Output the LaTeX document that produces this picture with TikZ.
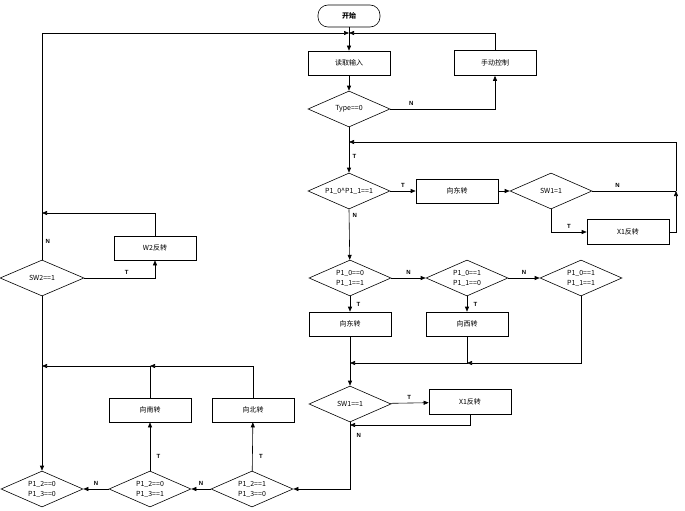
\documentclass[tikz,border=0pt]{standalone}
\usepackage{fontspec}
\setmainfont{Liberation Sans}
\newfontfamily\cjk{Noto Sans CJK SC}
\usetikzlibrary{arrows.meta, shapes.geometric}

\begin{document}
\begin{tikzpicture}[x=1pt, y=-1pt, line width=0.6pt,
        every node/.style={font=\cjk\fontsize{7}{8}\selectfont, align=center},
        box/.style={draw, minimum width=82pt, minimum height=25pt},
        cond/.style={draw, diamond, aspect=2.3, minimum width=82pt, minimum height=36pt, inner sep=0pt},
        lbl/.style={font=\bfseries\fontsize{6}{6}\selectfont},
        arrow/.style={-{Triangle[length=5pt,width=4pt]}}
    ]
    \useasboundingbox (0,0) rectangle (685,511);

    \node (start) [draw, rounded corners=10pt, minimum width=62pt, minimum height=22pt, font=\cjk\bfseries\fontsize{7}{8}\selectfont] at (349,16) {开始};
    \node (read) [box, minimum height=24pt] at (349,63) {读取输入};
    \node (manual) [box] at (495,63) {手动控制};
    \node (type) [cond] at (349,109) {Type==0};
    \node (p01) [cond] at (349,191) {P1\_0\^{}P1\_1==1};
    \node (east1) [box, minimum height=24pt] at (457,191) {向东转};
    \node (swa) [cond] at (551,191) {SW1=1};
    \node (xa) [box] at (628,232) {X1反转};
    \node (da) [cond] at (350,278) {P1\_0==0\\[2pt]P1\_1==1};
    \node (db) [cond] at (467,278) {P1\_0==1\\[2pt]P1\_1==0};
    \node (dc) [cond] at (581,278) {P1\_0==1\\[2pt]P1\_1==1};
    \node (east2) [box, minimum height=24pt] at (350,324) {向东转};
    \node (west) [box, minimum height=24pt] at (467,324) {向西转};
    \node (swb) [cond] at (350,404) {SW1==1};
    \node (xb) [box] at (470,402) {X1反转};
    \node (ba) [cond] at (252,489) {P1\_2==1\\[2pt]P1\_3==0};
    \node (bb) [cond] at (150,489) {P1\_2==0\\[2pt]P1\_3==1};
    \node (bc) [cond] at (42,489) {P1\_2==0\\[2pt]P1\_3==0};
    \node (north) [box, minimum height=24pt] at (253,410) {向北转};
    \node (south) [box, minimum height=24pt] at (150,410) {向南转};
    \node (swc) [cond, minimum width=84pt] at (42,278) {SW2==1};
    \node (w2) [box, minimum height=24pt] at (155,248) {W2反转};

    \coordinate (m1) at (349,33);
    \coordinate (m2) at (349,142);
    \coordinate (m3) at (350,363);
    \coordinate (m4) at (42,366);

    % upper part
    \draw [arrow] (start) -- (read);
    \draw [arrow] (read) -- (type);
    \draw [arrow] (type.east) -| (manual.south) node [lbl, pos=0.1, above] {N};
    \draw [arrow] (manual.north) |- (m1);
    \draw [arrow] (type.south) -- (p01) node [lbl, pos=0.65, right] {T};
    \draw [arrow] (p01) -- (east1) node [lbl, midway, above] {T};
    \draw [arrow] (east1) -- (swa);
    \draw (swa.east) -- (676,191) node [lbl, pos=0.3, above] {N};
    \draw [arrow] (676,191) |- (m2);
    \draw [arrow] (swa.south) |- (xa.west) node [lbl, pos=0.75, above] {T};
    \draw [arrow] (xa.east) -| (676,191);
    \draw [arrow] (p01.south) -- (da) node [lbl, pos=0.12, right] {N};

    % middle row
    \draw [arrow] (da) -- (db) node [lbl, midway, above] {N};
    \draw [arrow] (db) -- (dc) node [lbl, midway, above] {N};
    \draw [arrow] (da) -- (east2) node [lbl, midway, right=3pt] {T};
    \draw [arrow] (db) -- (west) node [lbl, midway, right=3pt] {T};
    \draw [arrow] (dc.south) |- (west.south |- m3);
    \draw [arrow] (west.south) |- (m3);
    \draw [arrow] (east2) -- (swb);
    \draw [arrow] (swb) -- (xb) node [lbl, midway, above] {T};
    \draw [arrow] (xb.south) |- (350,425);
    \draw [arrow] (swb.south) |- (ba.east) node [lbl, pos=0.1, right=3pt] {N};

    % bottom row
    \draw [arrow] (ba) -- (bb) node [lbl, midway, above] {N};
    \draw [arrow] (bb) -- (bc) node [lbl, midway, above] {N};
    \draw [arrow] (ba) -- (north) node [lbl, pos=0.3, right=3pt] {T};
    \draw [arrow] (bb) -- (south) node [lbl, pos=0.3, right=3pt] {T};
    \draw [arrow] (north.north) |- (south.north |- m4);
    \draw [arrow] (south.north) |- (m4);

    % left loop
    \draw [arrow] (swc.south) -- (bc);
    \draw [arrow] (swc.east) -| (w2.south) node [lbl, pos=0.3, above] {T};
    \draw [arrow] (w2.north) |- (42,213);
    \draw [arrow] (swc.north) |- (m1) node [lbl, pos=0.04, right] {N};
\end{tikzpicture}
\end{document}
